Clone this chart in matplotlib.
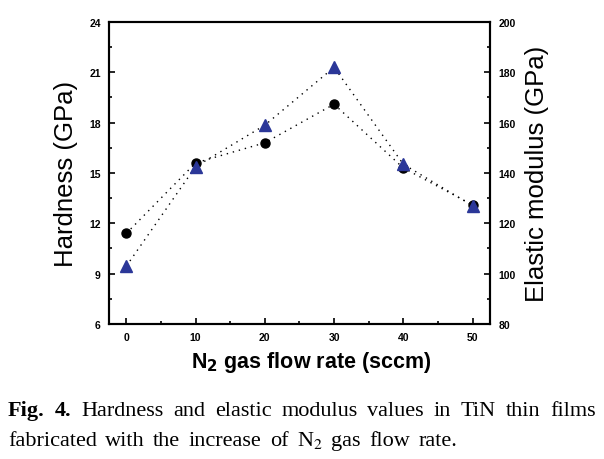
import matplotlib
matplotlib.use("Agg")
import matplotlib.pyplot as plt

flow_rate = [0, 10, 20, 30, 40, 50]
hardness = [11.4, 15.6, 16.8, 19.1, 15.3, 13.1]
modulus = [103, 142.5, 159, 182, 143.5, 127]

x_ticks = [0, 10, 20, 30, 40, 50]
h_ticks = [6, 9, 12, 15, 18, 21, 24]
e_ticks = [80, 100, 120, 140, 160, 180, 200]

plt.rcParams['font.family'] = ['Liberation Sans', 'DejaVu Sans']

fig = plt.figure(figsize=(6.04, 4.60), dpi=100)
ax = fig.add_axes([0.1805, 0.2935, 0.6305, 0.6565])
ax2 = ax.twinx()

ax.plot(flow_rate, hardness, ls=(0, (1, 3.5)), lw=1.0, color='black',
        marker='o', ms=6.5, mfc='black', mec='black', zorder=3)
ax2.plot(flow_rate, modulus, ls=(0, (1, 3.5)), lw=1.0, color='black',
         marker='^', ms=8, mfc='#2b3798', mec='#2b3798', zorder=3)

ax.set_xlim(-2.5, 52.5)
ax.set_ylim(6, 24)
ax2.set_ylim(80, 200)
ax.set_xticks(x_ticks)
ax.set_yticks(h_ticks)
ax2.set_yticks(e_ticks)
ax.set_xticks([5, 15, 25, 35, 45], minor=True)
ax.set_yticks([7.5, 10.5, 13.5, 16.5, 19.5, 22.5], minor=True)
ax2.set_yticks([90, 110, 130, 150, 170, 190], minor=True)

for a in (ax, ax2):
    a.tick_params(which='both', direction='in', labelsize=7.5, width=1.2)
    a.tick_params(which='major', length=4, pad=6)
    a.tick_params(which='minor', length=2.5)
    for lbl in a.get_xticklabels() + a.get_yticklabels():
        lbl.set_fontweight('bold')
    for s in a.spines.values():
        s.set_linewidth(1.5)

ax.set_ylabel('Hardness (GPa)', fontsize=18.5, labelpad=8)
ax2.set_ylabel('Elastic modulus (GPa)', fontsize=18.5, labelpad=7)
ax.set_xlabel('N$_\\mathbf{2}$ gas flow rate (sccm)', fontsize=15.5,
              fontweight='bold')
ax.xaxis.set_label_coords(0.53, -0.083)

# caption, words spread across each line
serif = ['Liberation Serif', 'DejaVu Serif']
cap_fs = 16
line1 = [('Fig.', 'bold'), ('4.', 'bold'), ('Hardness', 'normal'), ('and', 'normal'),
         ('elastic', 'normal'), ('modulus', 'normal'), ('values', 'normal'),
         ('in', 'normal'), ('TiN', 'normal'), ('thin', 'normal'), ('films', 'normal')]
line2 = [('fabricated', 'normal'), ('with', 'normal'), ('the', 'normal'),
         ('increase', 'normal'), ('of', 'normal'), ('N$_2$', 'normal'),
         ('gas', 'normal'), ('flow', 'normal'), ('rate.', 'normal')]

fig.canvas.draw()
r = fig.canvas.get_renderer()


def spread(words, y_px, x0_px, x1_px):
    texts = []
    for w, fw in words:
        t = fig.text(0, 1 - y_px / 460, w, fontsize=cap_fs, fontweight=fw,
                     family=serif, ha='left', va='baseline',
                     math_fontfamily='stix')
        texts.append(t)
    widths = [t.get_window_extent(r).width / fig.bbox.width for t in texts]
    x0, x1 = x0_px / 604, x1_px / 604
    gap = (x1 - x0 - sum(widths)) / (len(words) - 1)
    pos = x0
    for t, wd in zip(texts, widths):
        t.set_x(pos)
        pos += wd + gap


spread(line1, 416, 8, 596)
spread(line2, 446, 8, 457)

fig.savefig('out.png', dpi=100)
